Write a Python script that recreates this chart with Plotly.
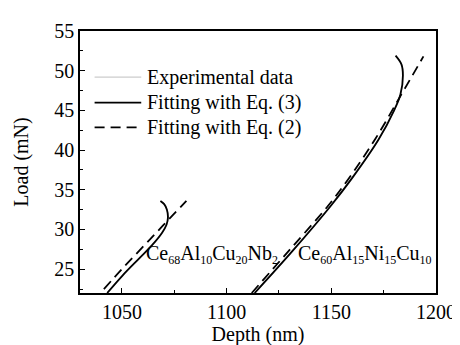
import plotly.graph_objects as go

# Ce68Al10Cu20Nb2 (small)
exp1_x = [1043.2, 1050.5, 1058.6, 1064.5, 1069.3, 1071.4, 1072.1, 1071.6, 1070.3, 1068.5]
exp1_y = [22.1, 24.2, 26.4, 28.0, 29.6, 30.6, 31.5, 32.5, 33.2, 33.6]
fit3_1_x = [1043.0, 1050.3, 1058.4, 1064.3, 1069.2, 1071.3, 1072.0, 1071.5, 1070.2, 1068.4]
fit3_1_y = [22.0, 24.2, 26.4, 28.0, 29.6, 30.6, 31.5, 32.5, 33.2, 33.6]
fit2_1_x = [1041.4, 1050.0, 1060.0, 1070.0, 1080.8]
fit2_1_y = [22.5, 25.0, 27.8, 30.6, 33.6]

# Ce60Al15Ni15Cu10 (large)
exp2_x = [1113.6, 1131.7, 1149.7, 1160.2, 1172.6, 1180.1, 1183.1, 1184.3, 1183.6, 1180.8]
exp2_y = [22.0, 27.3, 32.9, 36.5, 41.3, 45.0, 47.0, 49.4, 50.8, 51.9]
fit3_2_x = [1113.4, 1131.5, 1149.5, 1160.0, 1172.5, 1180.0, 1183.0, 1184.2, 1183.5, 1180.7]
fit3_2_y = [22.0, 27.3, 32.9, 36.5, 41.3, 45.0, 47.0, 49.4, 50.8, 51.9]
fit2_2_x = [1112.0, 1130.0, 1148.2, 1158.0, 1171.0, 1183.0, 1194.0]
fit2_2_y = [22.0, 27.4, 32.9, 36.3, 41.4, 46.8, 51.8]

x_ticks = [1050, 1100, 1150, 1200]
y_ticks = [25, 30, 35, 40, 45, 50, 55]

legend_labels = ["Experimental data", "Fitting with Eq. (3)", "Fitting with Eq. (2)"]

FONT = "Liberation Serif"
FS = 20
EXP_LINE = dict(color="#cccccc", width=1.2, shape="spline")
SOLID = dict(color="black", width=1.8, shape="spline")
DASH = dict(color="black", width=1.8, dash="10px,6px", shape="spline")


def sub(s):
    return '<sub><span style="font-size:12px">' + s + '</span></sub>'


fig = go.Figure()
for xs, ys, ln in [(exp1_x, exp1_y, EXP_LINE), (exp2_x, exp2_y, EXP_LINE),
                   (fit3_1_x, fit3_1_y, SOLID), (fit3_2_x, fit3_2_y, SOLID),
                   (fit2_1_x, fit2_1_y, DASH), (fit2_2_x, fit2_2_y, DASH)]:
    fig.add_trace(go.Scatter(x=xs, y=ys, mode="lines", line=ln, showlegend=False))

# manual legend (for exact spacing)
leg_rows = [0.824, 0.727, 0.632]
leg_styles = [dict(color="#cccccc", width=1.2), dict(color="black", width=1.8),
              dict(color="black", width=1.8, dash="10px,6px")]
for yy, lab, st in zip(leg_rows, legend_labels, leg_styles):
    fig.add_shape(type="line", xref="paper", yref="paper", x0=0.041, x1=0.172, y0=yy, y1=yy, line=st)
    fig.add_annotation(xref="paper", yref="paper", x=0.183, y=yy, xanchor="left", yanchor="middle",
                       text=lab, showarrow=False, font=dict(family=FONT, size=FS, color="black"))

fig.add_annotation(x=1092.8, y=26.8, text="Ce" + sub("68") + "Al" + sub("10") + "Cu" + sub("20") + "Nb" + sub("2"),
                   showarrow=False, font=dict(family=FONT, size=FS, color="black"), xref="x", yref="y")
fig.add_annotation(x=1166.2, y=26.8, text="Ce" + sub("60") + "Al" + sub("15") + "Ni" + sub("15") + "Cu" + sub("10"),
                   showarrow=False, font=dict(family=FONT, size=FS, color="black"), xref="x", yref="y")

axis_common = dict(showgrid=False, zeroline=False, showline=True, linecolor="black", linewidth=1.5,
                   mirror=True, ticks="inside", ticklen=5, tickwidth=1.3, tickcolor="black",
                   tickfont=dict(family=FONT, size=FS, color="black"))

fig.update_xaxes(range=[1030, 1200], tickvals=x_ticks, ticktext=[str(v) for v in x_ticks],
                 title=dict(text="Depth (nm)", font=dict(family=FONT, size=FS, color="black"), standoff=4),
                 minor=dict(ticks="inside", dtick=25, tick0=1025, ticklen=3, tickwidth=1.2, tickcolor="black"),
                 **axis_common)
fig.update_yaxes(range=[22, 55], tickvals=y_ticks, ticktext=[str(v) for v in y_ticks],
                 title=dict(text="Load (mN)", font=dict(family=FONT, size=FS, color="black"), standoff=20),
                 minor=dict(ticks="inside", dtick=2.5, tick0=0, ticklen=3, tickwidth=1.2, tickcolor="black"),
                 **axis_common)

fig.update_layout(
    width=460, height=345,
    margin=dict(l=72, r=21, t=17, b=55),
    paper_bgcolor="white", plot_bgcolor="white",
    font=dict(family=FONT, size=FS, color="black"),
    showlegend=False,
)

fig.write_html("out.html")
